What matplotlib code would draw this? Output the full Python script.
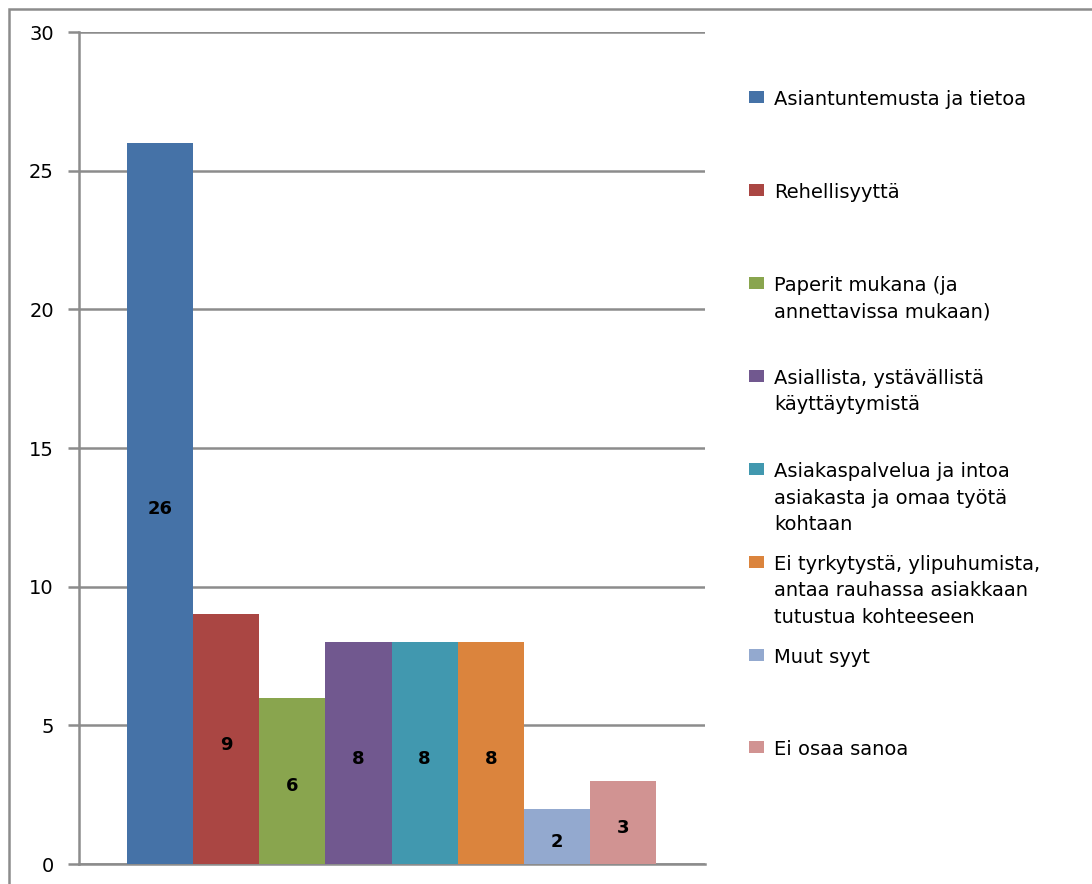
import numpy as np
import matplotlib.pyplot as plt
from matplotlib.patches import Rectangle

# Vastausten jakauma
labels = [
    "Asiantuntemusta ja tietoa",
    "Rehellisyyttä",
    "Paperit mukana (ja\nannettavissa mukaan)",
    "Asiallista, ystävällistä\nkäyttäytymistä",
    "Asiakaspalvelua ja intoa\nasiakasta ja omaa työtä\nkohtaan",
    "Ei tyrkytystä, ylipuhumista,\nantaa rauhassa asiakkaan\ntutustua kohteeseen",
    "Muut syyt",
    "Ei osaa sanoa",
]
values = [26, 9, 6, 8, 8, 8, 2, 3]
colors = ["#4572A7", "#AA4643", "#89A54E", "#71588F",
          "#4198AF", "#DB843D", "#93A9CF", "#D19392"]
yticks = [0, 5, 10, 15, 20, 25, 30]

plt.rcParams["font.family"] = ["DejaVu Sans"]
grid_col = "#8c8c8c"

fig = plt.figure(figsize=(10.92, 8.84), dpi=100)
ax = fig.add_axes([0.0723, 0.0226, 0.5733, 0.9412])

x = np.arange(len(values))
bars = ax.bar(x, values, width=1.0, color=colors, zorder=3)

for xi, v in zip(x, values):
    ax.annotate(str(v), (xi, v / 2), xytext=(0, -4), textcoords="offset points",
                ha="center", va="center", fontsize=13, fontweight="bold",
                color="black", zorder=4)

ax.set_xlim(-1.226, 8.24)
ax.set_ylim(0, 30)
ax.set_yticks(yticks)
ax.set_xticks([])
ax.yaxis.grid(True, color=grid_col, linewidth=1.8, zorder=0)
ax.tick_params(axis="y", length=8, width=1.8, color=grid_col,
               labelsize=14, pad=10)
for side in ["top", "right"]:
    ax.spines[side].set_visible(False)
ax.spines["left"].set_color(grid_col)
ax.spines["left"].set_linewidth(1.8)
ax.spines["bottom"].set_color(grid_col)
ax.spines["bottom"].set_linewidth(1.8)

# Selite oikealla, jokainen rivi omaan paikkaansa
W, H = 1092, 884
baselines = [105, 198, 291, 384, 477, 570, 663, 755]
line_step = 26.5
for lab, col, yb in zip(labels, colors, baselines):
    fig.patches.append(Rectangle((749 / W, 1 - (yb - 2) / H), 15 / W, 12 / H,
                                 transform=fig.transFigure, facecolor=col,
                                 edgecolor="none"))
    for k, line in enumerate(lab.split("\n")):
        fig.text(774 / W, 1 - (yb + k * line_step) / H, line, ha="left",
                 va="baseline", fontsize=14, color="black")

# Kaavion kehys
fig.patches.append(Rectangle((9 / W, -0.1), 1.2, 1 - 9 / H + 0.1,
                             transform=fig.transFigure, facecolor="none",
                             edgecolor=grid_col, linewidth=1.8))

fig.savefig("out.png", dpi=100)
